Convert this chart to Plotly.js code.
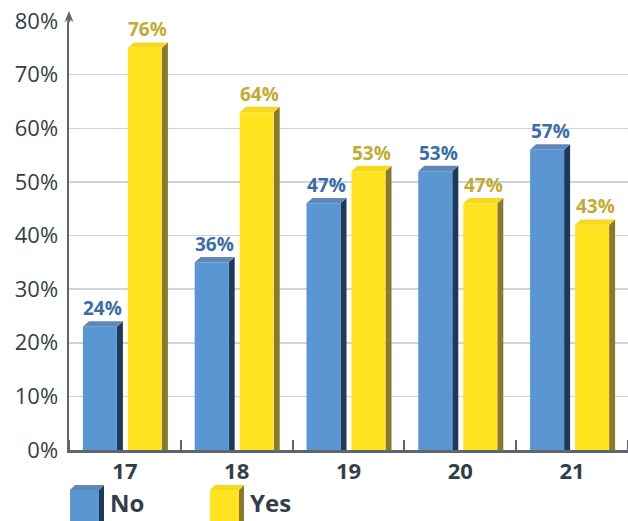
<!DOCTYPE html>
<html>
<head>
<meta charset="utf-8">
<script src="https://cdn.plot.ly/plotly-3.0.1.min.js"></script>
<style>
  html, body { margin: 0; padding: 0; background: #ffffff; }
  #chart { width: 628px; height: 521px; }
</style>
</head>
<body>
<div id="chart"></div>
<script>
// Share of answers by age
const categories = ['17', '18', '19', '20', '21'];
const seriesNames = ['No', 'Yes'];
const noValues = [24, 36, 47, 53, 57];
const yesValues = [76, 64, 53, 47, 43];
const yTickVals = [0, 10, 20, 30, 40, 50, 60, 70, 80];
const yTickText = ['0%', '10%', '20%', '30%', '40%', '50%', '60%', '70%', '80%'];

// page geometry
const W = 628, H = 521;
const M = { l: 69, r: 0, t: 21, b: 71 };
const plotW = W - M.l - M.r;
const plotH = H - M.t - M.b;
const X_RANGE = [-0.5, categories.length - 0.5];
const Y_RANGE = [0, 80];
const pxPerX = plotW / (X_RANGE[1] - X_RANGE[0]);
const pxPerY = plotH / (Y_RANGE[1] - Y_RANGE[0]);

// 3D box look: depth of side/top faces in pixels, converted to data units
const DEPTH_PX_X = 6, DEPTH_PX_Y = 5.4;
const DX = DEPTH_PX_X / pxPerX;
const DY = DEPTH_PX_Y / pxPerY;
const FRONT_W = 34 / pxPerX;

const styles = [
  { offset: -42 / pxPerX, front: '#5a96d2', side: '#1d3a5b', top: '#5f88b8', label: '#3b6ea6' },
  { offset: 3 / pxPerX,   front: '#ffe41f', side: '#8a7a30', top: '#f3da1e', label: '#c3ab33' }
];
const seriesValues = [noValues, yesValues];

const FONT = '"Open Sans", "Noto Sans", sans-serif';
const INK = '#333e49';
const AXIS = '#5d6771';

const xIdx = categories.map((c, i) => i);

const traces = seriesValues.map((vals, s) => ({
  type: 'bar',
  name: seriesNames[s],
  x: xIdx,
  y: vals.map(v => v - DY),
  base: 0,
  offset: styles[s].offset,
  width: FRONT_W,
  marker: { color: styles[s].front, line: { width: 0 } },
  hoverinfo: 'skip',
  showlegend: false
}));

const shapes = [];
const annotations = [];

// side and top faces of every bar, plus its value label
seriesValues.forEach((vals, s) => {
  const st = styles[s];
  vals.forEach((v, i) => {
    const L = i + st.offset;
    const R = L + FRONT_W;
    const f = v - DY;
    shapes.push({
      type: 'path', xref: 'x', yref: 'y', layer: 'between',
      path: `M${R},0 L${R + DX},0 L${R + DX},${v} L${R},${f} Z`,
      fillcolor: st.side, line: { width: 0 }
    });
    shapes.push({
      type: 'path', xref: 'x', yref: 'y', layer: 'between',
      path: `M${L},${f} L${R},${f} L${R + DX},${v} L${L + DX},${v} Z`,
      fillcolor: st.top, line: { width: 0 }
    });
    annotations.push({
      xref: 'x', yref: 'y',
      x: L + (FRONT_W + DX) / 2, y: v,
      xanchor: 'center', yanchor: 'bottom', yshift: -2,
      text: '<b>' + v + '%</b>', showarrow: false,
      font: { family: FONT, size: 19, color: st.label }
    });
  });
});

// arrow head on top of the value axis
shapes.push({
  type: 'path', xref: 'paper', yref: 'paper',
  xsizemode: 'pixel', ysizemode: 'pixel', xanchor: 0, yanchor: 1,
  path: 'M0,-1 L0,6',
  line: { color: AXIS, width: 2.5 }
});
shapes.push({
  type: 'path', xref: 'paper', yref: 'paper',
  xsizemode: 'pixel', ysizemode: 'pixel', xanchor: 0, yanchor: 1,
  path: 'M-4.5,-1 L0,10 L4.5,-1 L0,2 Z',
  fillcolor: AXIS, line: { width: 0 }
});

// legend drawn as small boxes below the axis
const px2x = px => (px - M.l) / plotW;
const px2y = py => (H - M.b - py) / plotH;
const legendItems = [
  { x: 70, textX: 109 },
  { x: 210, textX: 249 }
];
legendItems.forEach((it, s) => {
  const st = styles[s];
  const l = px2x(it.x), r = px2x(it.x + 29), rr = px2x(it.x + 34);
  const fy = px2y(490), by = px2y(485), bot = px2y(523);
  shapes.push({ type: 'rect', xref: 'paper', yref: 'paper', x0: l, x1: r, y0: bot, y1: fy,
    fillcolor: st.front, line: { width: 0 } });
  shapes.push({ type: 'path', xref: 'paper', yref: 'paper',
    path: `M${r},${bot} L${rr},${bot} L${rr},${by} L${r},${fy} Z`,
    fillcolor: st.side, line: { width: 0 } });
  shapes.push({ type: 'path', xref: 'paper', yref: 'paper',
    path: `M${l},${fy} L${r},${fy} L${rr},${by} L${px2x(it.x + 5)},${by} Z`,
    fillcolor: st.top, line: { width: 0 } });
  annotations.push({
    xref: 'paper', yref: 'paper', x: px2x(it.textX), y: px2y(503),
    xanchor: 'left', yanchor: 'middle', showarrow: false, borderpad: 0,
    text: '<b>' + seriesNames[s] + '</b>',
    font: { family: FONT, size: 24, color: INK }
  });
});

const layout = {
  width: W, height: H,
  margin: M,
  paper_bgcolor: '#ffffff',
  plot_bgcolor: '#ffffff',
  barmode: 'overlay',
  showlegend: false,
  font: { family: FONT, color: INK },
  xaxis: {
    range: X_RANGE,
    tickmode: 'array', tickvals: xIdx, ticktext: categories,
    ticks: '', showgrid: false, zeroline: false,
    showline: true, linecolor: AXIS, linewidth: 2.5,
    tickfont: { family: FONT, size: 22, color: INK, weight: 'bold' },
    ticklabelstandoff: 0,
    minor: { tick0: 0.5, dtick: 1, ticks: 'inside', ticklen: 10, tickwidth: 2, tickcolor: AXIS, showgrid: false },
    fixedrange: true
  },
  yaxis: {
    range: Y_RANGE,
    tickmode: 'array', tickvals: yTickVals, ticktext: yTickText,
    ticks: '', showgrid: true, gridcolor: '#cdd3d9', gridwidth: 1.5,
    zeroline: false, showline: true, linecolor: AXIS, linewidth: 2.5,
    tickfont: { family: FONT, size: 22, color: INK },
    ticklabelstandoff: 4,
    fixedrange: true
  },
  shapes: shapes,
  annotations: annotations
};

Plotly.newPlot('chart', traces, layout, { displayModeBar: false, staticPlot: true });
</script>
</body>
</html>
